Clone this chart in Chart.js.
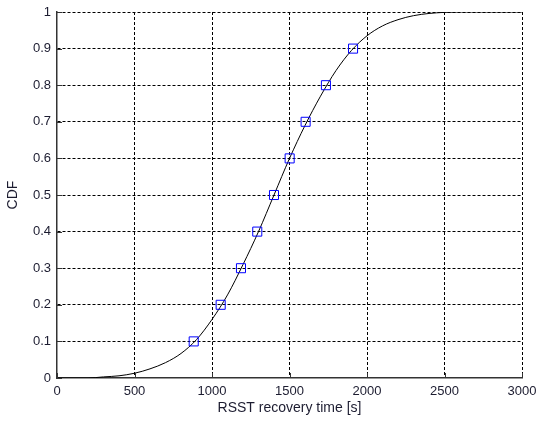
<!DOCTYPE html>
<html>
<head>
<meta charset="utf-8">
<title>RSST recovery time CDF</title>
<script src="https://cdn.jsdelivr.net/npm/chart.js@4/dist/chart.umd.min.js"></script>
<style>
    html, body { margin: 0; padding: 0; background: #fff; }
    #wrap { width: 536px; height: 421px; }
</style>
</head>
<body>
<div id="wrap"><canvas id="cdfChart"></canvas></div>
<script>
// empirical CDF curve of the recovery time
const curveTime = [0, 200, 300, 400, 500, 600, 700, 800, 900, 1000, 1100, 1200, 1300, 1400,
    1500, 1600, 1700, 1800, 1900, 2000, 2100, 2200, 2300, 2400, 2500, 2600, 3000];
const curveCdf = [0, 0, 0.003, 0.006, 0.013, 0.025, 0.042, 0.067, 0.105, 0.16, 0.227, 0.31, 0.40, 0.50,
    0.60, 0.69, 0.77, 0.84, 0.895, 0.935, 0.962, 0.979, 0.99, 0.996, 0.999, 1, 1];

// decile markers
const markerTime = [882, 1056, 1187, 1292, 1400, 1501, 1604, 1735, 1910];
const markerCdf = [0.1, 0.2, 0.3, 0.4, 0.5, 0.6, 0.7, 0.8, 0.9];

const xTicks = [0, 500, 1000, 1500, 2000, 2500, 3000];
const yTicks = [0, 0.1, 0.2, 0.3, 0.4, 0.5, 0.6, 0.7, 0.8, 0.9, 1];

const FONT = { family: 'Arial, "Liberation Sans", sans-serif', size: 13 };
const TITLE_FONT = { family: 'Arial, "Liberation Sans", sans-serif', size: 14 };
const TEXT = '#1c1c30';

function toPoints(xs, ys) {
    return xs.map(function (x, i) { return { x: x, y: ys[i] }; });
}

// no dashed grid line on top of the solid axis lines
function gridColor(ctx) {
    return ctx.tick && ctx.tick.value === 0 ? 'rgba(0,0,0,0)' : '#000';
}

// short inward tick marks along the left and bottom axes
const innerTicks = {
    id: 'innerTicks',
    afterDatasetsDraw: function (chart) {
        const ctx = chart.ctx;
        const area = chart.chartArea;
        const xs = chart.scales.x;
        const ys = chart.scales.y;
        ctx.save();
        ctx.strokeStyle = '#333';
        ctx.lineWidth = 1;
        ctx.beginPath();
        xTicks.forEach(function (v) {
            const px = Math.round(xs.getPixelForValue(v)) + 0.5;
            ctx.moveTo(px, area.bottom);
            ctx.lineTo(px, area.bottom - 5);
        });
        yTicks.forEach(function (v) {
            const py = Math.round(ys.getPixelForValue(v)) + 0.5;
            ctx.moveTo(area.left, py);
            ctx.lineTo(area.left + 5, py);
        });
        ctx.stroke();
        ctx.restore();
    }
};

new Chart(document.getElementById('cdfChart'), {
    type: 'scatter',
    data: {
        datasets: [
            {
                label: 'CDF',
                data: toPoints(curveTime, curveCdf),
                showLine: true,
                borderColor: '#000',
                borderWidth: 1,
                pointRadius: 0,
                cubicInterpolationMode: 'monotone',
                order: 2
            },
            {
                label: 'Deciles',
                data: toPoints(markerTime, markerCdf),
                showLine: false,
                pointStyle: 'rect',
                pointRadius: 6.4,
                pointBorderColor: '#0000ff',
                pointBackgroundColor: 'rgba(0,0,0,0)',
                pointBorderWidth: 1,
                order: 1
            }
        ]
    },
    options: {
        responsive: true,
        maintainAspectRatio: false,
        animation: false,
        layout: { padding: { left: 0, right: 0, top: 12, bottom: 0 } },
        plugins: {
            legend: { display: false },
            tooltip: { enabled: false }
        },
        scales: {
            x: {
                type: 'linear',
                min: 0,
                max: 3000,
                afterBuildTicks: function (scale) {
                    scale.ticks = xTicks.map(function (v) { return { value: v }; });
                },
                afterFit: function (scale) {
                    scale.height = 43;
                    scale.paddingLeft = 0;
                    scale.paddingRight = 14;
                },
                grid: { color: gridColor, lineWidth: 1, drawTicks: false },
                border: { display: true, color: '#333', width: 1.5, dash: [3, 2] },
                ticks: {
                    color: TEXT,
                    font: FONT,
                    padding: 6,
                    maxRotation: 0,
                    callback: function (v) { return String(v); }
                },
                title: {
                    display: true,
                    text: 'RSST recovery time [s]',
                    color: TEXT,
                    font: TITLE_FONT,
                    padding: { top: 0, bottom: 4 }
                }
            },
            y: {
                type: 'linear',
                min: 0,
                max: 1,
                afterBuildTicks: function (scale) {
                    scale.ticks = yTicks.map(function (v) { return { value: v }; });
                },
                afterFit: function (scale) {
                    scale.width = 57;
                    scale.paddingTop = 0;
                    scale.paddingBottom = 0;
                },
                grid: { color: gridColor, lineWidth: 1, drawTicks: false },
                border: { display: true, color: '#333', width: 1.5, dash: [3, 2] },
                ticks: {
                    color: TEXT,
                    font: FONT,
                    padding: 6,
                    callback: function (v) { return String(Number(v.toFixed(1))); }
                },
                title: {
                    display: true,
                    text: 'CDF',
                    color: TEXT,
                    font: TITLE_FONT,
                    padding: { top: 5, bottom: 0 }
                }
            }
        }
    },
    plugins: [innerTicks]
});
</script>
</body>
</html>
